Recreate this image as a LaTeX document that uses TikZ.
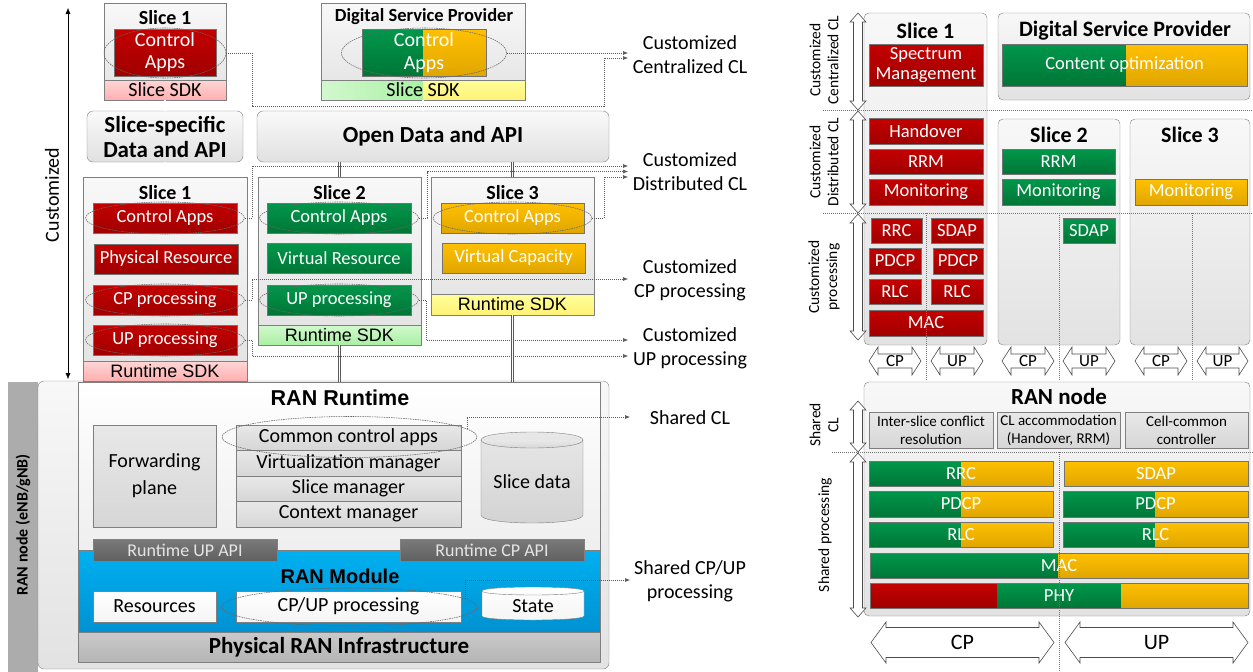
\documentclass[tikz,border=0pt]{standalone}
\usepackage{fontspec}
\setmainfont{Carlito}
\newfontfamily\arialf{Liberation Sans}
\usetikzlibrary{arrows.meta,calc,shapes.geometric}

\definecolor{rtop}{HTML}{C40000}
\definecolor{rbot}{HTML}{A00000}
\definecolor{gtop}{HTML}{00974B}
\definecolor{gbot}{HTML}{007636}
\definecolor{ytop}{HTML}{FFC000}
\definecolor{ybot}{HTML}{E0A600}
\definecolor{pinkt}{HTML}{FFD6D6}
\definecolor{pinkb}{HTML}{FFAFAF}
\definecolor{lgrt}{HTML}{D2F8CE}
\definecolor{lgrb}{HTML}{A9F0A3}
\definecolor{lyl}{HTML}{FFFF99}
\definecolor{lylb}{HTML}{FFF176}
\definecolor{modt}{HTML}{00B0F0}
\definecolor{modb}{HTML}{0092D2}
\definecolor{panelt}{HTML}{F8F8F8}
\definecolor{panelb}{HTML}{E2E2E2}
\definecolor{edge}{HTML}{7F7F7F}
\definecolor{apit}{HTML}{7A7A7A}
\definecolor{apib}{HTML}{606060}

\newcommand\fsz[2]{\fontsize{#1}{#2}\selectfont}
% box given by its corners: name, style, x1, y1, x2, y2, text
\newcommand\bx[7]{\node[box,#2,minimum width={#5-#3},minimum height={#6-#4}]
  (#1) at ({(#3+#5)/2},{(#4+#6)/2}) {#7};}
% two-colour bar: name, x1, y1, split, x2, y2, text
\newcommand\gybar[7]{%
  \shade[top color=gtop,bottom color=gbot] (#2,#3) rectangle (#4,#6);
  \shade[top color=ytop,bottom color=ybot] (#4,#3) rectangle (#5,#6);
  \bx{#1}{draw=black!55,text=white}{#2}{#3}{#5}{#6}{#7}}
% hollow double arrow, horizontal: x1, x2, y, half height, half shaft, head length
\newcommand\harr[6]{%
  \draw[hollow] (#1,#3) -- ({#1+#6},{#3-#4}) -- ({#1+#6},{#3-#5}) -- ({#2-#6},{#3-#5})
    -- ({#2-#6},{#3-#4}) -- (#2,#3) -- ({#2-#6},{#3+#4}) -- ({#2-#6},{#3+#5})
    -- ({#1+#6},{#3+#5}) -- ({#1+#6},{#3+#4}) -- cycle;}
% hollow double arrow, vertical: x, y1, y2, half width, half shaft, head length
\newcommand\varr[6]{%
  \draw[hollow] (#1,#2) -- ({#1+#4},{#2+#6}) -- ({#1+#5},{#2+#6}) -- ({#1+#5},{#3-#6})
    -- ({#1+#4},{#3-#6}) -- (#1,#3) -- ({#1-#4},{#3-#6}) -- ({#1-#5},{#3-#6})
    -- ({#1-#5},{#2+#6}) -- ({#1-#4},{#2+#6}) -- cycle;}
% cylinder: x1, y1, x2, y2, cap half height, style
\newcommand\cyl[6]{%
  \path[#6] (#1,{#2+#5}) -- (#1,{#4-#5})
    .. controls (#1,{#4+#5/3}) and (#3,{#4+#5/3}) .. (#3,{#4-#5})
    -- (#3,{#2+#5}) .. controls (#3,{#2-#5/3}) and (#1,{#2-#5/3}) .. (#1,{#2+#5});
  \path[#6] (#1,{#2+#5}) .. controls (#1,{#2+7*#5/3}) and (#3,{#2+7*#5/3}) .. (#3,{#2+#5});}

\begin{document}
\begin{tikzpicture}[x=1pt,y=-1pt,font=\fsz{20}{23},
  box/.style={inner sep=0pt,align=center},
  panel/.style={draw=edge,top color=panelt,bottom color=panelb},
  rpanel/.style={panel,rounded corners=5pt},
  redb/.style={draw=black!55,top color=rtop,bottom color=rbot,text=white},
  greenb/.style={draw=black!55,top color=gtop,bottom color=gbot,text=white},
  yellowb/.style={draw=black!55,top color=ytop,bottom color=ybot,text=white},
  grayb/.style={draw=edge,top color=gray!18,bottom color=gray!32},
  apibar/.style={draw=black!50,top color=apit,bottom color=apib,text=gray!20,font=\fsz{18}{20}},
  ring/.style={ellipse,draw=black!60,dash pattern=on 1.6pt off 0.8pt,line width=0.55pt,inner sep=0pt},
  cl/.style={draw=black!65,dash pattern=on 1pt off 1pt,line width=0.6pt,-{Latex[length=5pt,width=4pt]}},
  dots/.style={draw=black!55,dash pattern=on 1pt off 1pt,line width=0.6pt},
  dbl/.style={draw=black!65,double=white,double distance=1.6pt,line width=0.6pt},
  hollow/.style={draw=black!70,fill=white,line width=0.6pt,line join=miter},
  sdk/.style={font=\arialf\fsz{18}{20}},
  ttl/.style={font=\bfseries\fsz{20}{23}},
  inb/.style={font=\fsz{18.5}{20}},
  lbl/.style={align=center,font=\fsz{20}{24}},
  rlbl/.style={align=center,rotate=90,font=\fsz{15.5}{18}}]
\useasboundingbox (0,0) rectangle (1253,672);

%================ left: customized / shared layers ================
\coordinate (cTop) at (68,8);
\coordinate (cMid) at (68,379);
\coordinate (sMid) at (68,383);
\coordinate (sBot) at (68,662);
\draw[{Latex[length=6pt,width=5pt]}-{Latex[length=6pt,width=5pt]}] (cTop) -- (cMid);
\draw[{Latex[length=6pt,width=5pt]}-{Latex[length=6pt,width=5pt]}] (sMid) -- (sBot);
\node[rotate=90] (lcust) at (52,195) {Customized};
\node[rotate=90] (lshared) at (52,538) {Shared};

\bx{ranbar}{fill=gray!65}{8}{382}{38}{672}{}
\node[rotate=90,font=\bfseries\fsz{16}{18}] (ranbartxt) at (23,525) {RAN node (eNB/gNB)};

% shared RAN node
\bx{shpanel}{panel,rounded corners=6pt}{38}{381}{609}{669}{}
\bx{rtreg}{draw=edge,top color=white,bottom color=gray!13}{78}{382}{600}{550}{}
\bx{rmreg}{draw=edge,top color=modt,bottom color=modb}{78}{550}{600}{632}{}
\bx{phyreg}{draw=edge,top color=gray!42,bottom color=gray!58,font=\bfseries\fsz{23}{25}}{78}{632}{600}{662}{Physical RAN Infrastructure}
\node[font=\arialf\bfseries\fsz{21.5}{24}] (rttl) at (340,398) {RAN Runtime};
\node[font=\arialf\bfseries\fsz{20}{23}] (mttl) at (340,576) {RAN Module};

\bx{fwd}{grayb}{93}{425}{216}{527}{Forwarding\\[4pt]plane}
\bx{cca}{grayb}{236}{425}{461}{450}{Common control apps}
\bx{vman}{grayb}{236}{450}{461}{476}{Virtualization manager}
\bx{sman}{grayb}{236}{476}{461}{501}{Slice manager}
\bx{ctxm}{grayb}{236}{501}{461}{527}{Context manager}
\cyl{481}{432}{583}{523}{8}{draw=edge,top color=gray!18,bottom color=gray!35}
\node (sdata) at (532,482) {Slice data};

\bx{upapi}{apibar}{93}{539}{277}{561}{Runtime UP API}
\bx{cpapi}{apibar}{400}{539}{584}{561}{Runtime CP API}

\bx{res}{draw=edge,top color=white,bottom color=gray!8}{93}{591}{216}{622}{Resources}
\bx{cpup}{draw=edge,top color=white,bottom color=gray!8}{236}{591}{461}{622}{CP/UP processing}
\cyl{482}{587}{584}{620}{4}{draw=edge,top color=white,bottom color=gray!8}
\node (state) at (533,606) {State};

\node[ring,minimum width=255,minimum height=41] (ccar) at (349.5,437) {};
\node[ring,minimum width=255,minimum height=38] (cpupr) at (349.5,607) {};

%================ left: customized part ================
% top slice 1
\bx{s1top}{panel}{104}{3}{226}{100}{}
\node[ttl] (s1ttl) at (165,18) {Slice 1};
\bx{s1app}{redb,font=\fsz{20}{22}}{114}{29}{216}{76}{Control\\Apps}
\bx{s1sdk}{draw=edge,top color=pinkt,bottom color=pinkb}{104}{80}{226}{100}{Slice SDK}
\node[ring,minimum width=122,minimum height=50] (s1appr) at (165,53) {};

% digital service provider
\bx{dsp}{panel}{321}{3}{525}{100}{}
\node[font=\bfseries\fsz{18.5}{21}] (dspttl) at (424,17) {Digital Service Provider};
\gybar{dspapp}{362}{29}{423}{486}{76}{\fsz{20}{22}Control\\Apps}
\shade[left color=lgrt,right color=lgrb] (321,80) rectangle (423,100);
\shade[top color=lyl,bottom color=lylb] (423,80) rectangle (525,100);
\bx{dspsdk}{draw=edge}{321}{80}{525}{100}{Slice SDK}
\node[ring,minimum width=165,minimum height=50] (dspappr) at (424,53) {};

% data and API layers
\bx{ssapi}{draw=edge,rounded corners=6pt,top color=gray!4,bottom color=gray!24,font=\bfseries\fsz{23}{25}}{87}{111}{243}{162}{Slice-specific\\Data and API}
\bx{odapi}{draw=edge,rounded corners=6pt,top color=gray!4,bottom color=gray!24,font=\bfseries\fsz{23}{25}}{257}{111}{609}{162}{Open Data and API}

% slice 1 runtime
\bx{s1box}{panel}{83}{177}{247}{381}{}
\node[ttl] (s1ttlb) at (165,193) {Slice 1};
\bx{s1ca}{redb,inb}{93}{203}{237}{233}{Control Apps}
\bx{s1pr}{redb,inb}{94}{244}{238}{274}{Physical Resource}
\bx{s1cp}{redb,inb}{93}{285}{237}{315}{CP processing}
\bx{s1up}{redb,inb}{93}{325}{237}{355}{UP processing}
\bx{s1rsdk}{sdk,draw=edge,top color=pinkt,bottom color=pinkb}{83}{361}{247}{381}{Runtime SDK}
\node[ring,minimum width=159,minimum height=32] (s1car) at (165,218) {};
\node[ring,minimum width=159,minimum height=32] (s1cpr) at (165,300) {};
\node[ring,minimum width=159,minimum height=32] (s1upr) at (165,340) {};

% slice 2 runtime
\bx{s2box}{panel}{258}{177}{421}{345}{}
\node[ttl] (s2ttl) at (339.5,193) {Slice 2};
\bx{s2ca}{greenb,inb}{267}{203}{411}{233}{Control Apps}
\bx{s2vr}{greenb,inb}{267}{243}{411}{273}{Virtual Resource}
\bx{s2up}{greenb,inb}{267}{285}{411}{315}{UP processing}
\bx{s2rsdk}{sdk,draw=edge,top color=lgrt,bottom color=lgrb}{258}{325}{421}{345}{Runtime SDK}
\node[ring,minimum width=159,minimum height=32] (s2car) at (339,218) {};
\node[ring,minimum width=159,minimum height=32] (s2upr) at (339,300) {};

% slice 3 runtime
\bx{s3box}{panel}{431}{177}{594}{315}{}
\node[ttl] (s3ttl) at (512.5,193) {Slice 3};
\bx{s3ca}{yellowb,inb}{441}{203}{584}{233}{Control Apps}
\bx{s3vc}{yellowb,inb}{442}{243}{585}{273}{Virtual Capacity}
\bx{s3rsdk}{sdk,draw=edge,top color=lyl,bottom color=lylb}{431}{294}{594}{315}{Runtime SDK}
\node[ring,minimum width=159,minimum height=32] (s3car) at (512.5,218) {};

% interface links between layers
\draw[dbl] (s1sdk.south) -- (ssapi.north);
\draw[dbl] (ssapi.south) -- (s1box.north);
\draw[dbl] (dspsdk.south) -- (dspsdk.south |- odapi.north);
\draw[dbl] (s2box.north |- odapi.south) -- (s2box.north);
\draw[dbl] (s3box.north |- odapi.south) -- (s3box.north);
\draw[dbl] (s2rsdk.south) -- (s2rsdk.south |- rtreg.north);
\draw[dbl] (s3rsdk.south) -- (s3rsdk.south |- rtreg.north);

% control-loop labels on the right of the left diagram
\node[lbl] (lcent) at (690,55) {Customized\\Centralized CL};
\node[lbl] (ldist) at (690,172) {Customized\\Distributed CL};
\node[lbl] (lcp) at (690,280) {Customized\\CP processing};
\node[lbl] (lup) at (690,348) {Customized\\UP processing};
\node[lbl] (lscl) at (690,418) {Shared CL};
\node[lbl] (lsproc) at (690,581) {Shared CP/UP\\processing};

\coordinate (ccA) at (628,53);
\coordinate (ccB) at (628,58);
\coordinate (dcA) at (628,166);
\coordinate (dcB) at (628,171.5);
\coordinate (dcC) at (628,177);
\coordinate (cpE) at (628,279);
\coordinate (upA) at (628,340);
\coordinate (upB) at (628,356);
\coordinate (shA) at (630,417);
\coordinate (shB) at (630,580);
\coordinate (w1) at (252,106);
\coordinate (w2) at (604,58);

\draw[cl] (dspappr.east) -- (ccA);
\draw[cl] (s1appr.east) -| (w1) -| (w2) -- (ccB);
\draw[cl] (s1car.east) -| (252,166) -- (dcA);
\draw[cl] (s2car.east) -| (427,171.5) -- (dcB);
\draw[cl] (s3car.east) -| (604,177) -- (dcC);
\draw[cl] (s1cpr.east) -| (252,279) -- (cpE);
\draw[cl] (s2upr.east) -| (426,340) -- (upA);
\draw[cl] (s1upr.east) -| (252,356) -- (upB);
\draw[cl] (ccar.4) |- (shA);
\draw[cl] (cpupr.4) |- (shB);

%================ right: per-slice view ================
\bx{r1box}{rpanel}{864}{13}{987}{345}{}
\node[font=\bfseries\fsz{22}{25}] (r1ttl) at (925.5,31) {Slice 1};
\bx{spec}{redb,inb}{869}{44}{983}{86}{Spectrum\\Management}
\bx{hand}{redb,inb}{869}{118}{983}{144}{Handover}
\bx{rrm1}{redb,inb}{869}{149}{983}{174}{RRM}
\bx{mon1}{redb,inb}{869}{179}{983}{205}{Monitoring}
\bx{rrc1}{redb,inb}{871}{218}{922}{243}{RRC}
\bx{sdap1}{redb,inb}{931}{218}{983}{243}{SDAP}
\bx{pdcp1a}{redb,inb}{869}{248}{921}{274}{PDCP}
\bx{pdcp1b}{redb,inb}{933}{248}{983}{274}{PDCP}
\bx{rlc1a}{redb,inb}{869}{279}{921}{304}{RLC}
\bx{rlc1b}{redb,inb}{931}{279}{983}{304}{RLC}
\bx{mac1}{redb,inb}{869}{310}{983}{336}{MAC}

\bx{rdsp}{rpanel}{998}{13}{1250}{100}{}
\node[font=\bfseries\fsz{22}{25}] (rdspttl) at (1125,31) {Digital Service Provider};
\gybar{copt}{1002}{44}{1126}{1247}{86}{\fsz{18.5}{20}Content optimization}

\bx{r2box}{rpanel}{998}{119}{1120}{345}{}
\node[font=\bfseries\fsz{22}{25}] (r2ttl) at (1059,135) {Slice 2};
\bx{rrm2}{greenb,inb}{1002}{149}{1115}{174}{RRM}
\bx{mon2}{greenb,inb}{1002}{179}{1115}{205}{Monitoring}
\bx{sdap2}{greenb,inb}{1063}{218}{1115}{243}{SDAP}

\bx{r3box}{rpanel}{1130}{119}{1250}{345}{}
\node[font=\bfseries\fsz{22}{25}] (r3ttl) at (1190,135) {Slice 3};
\bx{mon3}{yellowb,inb}{1135}{179}{1247}{205}{Monitoring}

% CP / UP interfaces of each slice
\harr{869}{921}{361}{14}{7}{9}
\harr{931}{983}{361}{14}{7}{9}
\harr{1002}{1054}{361}{14}{7}{9}
\harr{1063}{1115}{361}{14}{7}{9}
\harr{1135}{1187}{361}{14}{7}{9}
\harr{1197}{1248}{361}{14}{7}{9}
\node[font=\fsz{17}{19}] (cp1) at (895,361) {CP};
\node[font=\fsz{17}{19}] (up1) at (957,361) {UP};
\node[font=\fsz{17}{19}] (cp2) at (1028,361) {CP};
\node[font=\fsz{17}{19}] (up2) at (1089,361) {UP};
\node[font=\fsz{17}{19}] (cp3) at (1161,361) {CP};
\node[font=\fsz{17}{19}] (up3) at (1222.5,361) {UP};

% shared RAN node
\bx{rnode}{rpanel}{864}{382}{1250}{616}{}
\node[font=\bfseries\fsz{23}{26}] (rnttl) at (1059,397) {RAN node};
\bx{isc}{grayb,font=\fsz{15}{18}}{869}{412}{993}{448}{Inter-slice conflict\\resolution}
\bx{cla}{grayb,font=\fsz{15}{18}}{997}{412}{1120}{448}{CL accommodation\\(Handover, RRM)}
\bx{ccc}{grayb,font=\fsz{15}{18}}{1125}{412}{1248}{448}{Cell-common\\controller}

\gybar{rrc2}{869}{461}{961}{1053}{486}{\fsz{18.5}{20}RRC}
\bx{sdap3}{yellowb,inb}{1064}{461}{1248}{486}{SDAP}
\gybar{pdcp2a}{869}{491}{961}{1053}{517}{\fsz{18.5}{20}PDCP}
\gybar{pdcp2b}{1063}{491}{1155}{1248}{517}{\fsz{18.5}{20}PDCP}
\gybar{rlc2a}{869}{522}{961}{1053}{547}{\fsz{18.5}{20}RLC}
\gybar{rlc2b}{1063}{522}{1155}{1248}{547}{\fsz{18.5}{20}RLC}
\gybar{mac2}{870}{553}{1058}{1248}{578}{\fsz{18.5}{20}MAC}
\shade[top color=rtop,bottom color=rbot] (870,583) rectangle (997,608);
\shade[top color=gtop,bottom color=gbot] (997,583) rectangle (1121,608);
\shade[top color=ytop,bottom color=ybot] (1121,583) rectangle (1248,608);
\bx{phy}{draw=black!55,text=white,inb}{870}{583}{1248}{608}{PHY}

\harr{871}{1054}{642.5}{20.5}{15}{15}
\harr{1065}{1248}{642.5}{20.5}{15}{15}
\node[font=\fsz{22}{25}] (bcp) at (962.5,642.5) {CP};
\node[font=\fsz{22}{25}] (bup) at (1156.5,642.5) {UP};

% layer separators
\draw[dots] (823,110) -- (1253,110);
\draw[dots] (823,213) -- (1253,213);
\draw[dots] (832,452) -- (1253,452);
\draw[dots] (926,213) -- (926,380);
\draw[dots] (1059,213) -- (1059,380);
\draw[dots] (1192,213) -- (1192,380);
\draw[dots] (1059,452) -- (1059,672);

% layer extents
\varr{858}{13}{110}{8}{4.5}{9}
\varr{858}{111}{213}{8}{4.5}{9}
\varr{858}{214}{340}{8}{4.5}{9}
\varr{858}{401}{452}{8}{4.5}{9}
\varr{858}{453}{617}{8}{4.5}{9}
\node[rlbl] (rcent) at (824,60) {Customized\\Centralized CL};
\node[rlbl] (rdist) at (824,162) {Customized\\Distributed CL};
\node[rlbl] (rproc) at (824,277) {Customized\\processing};
\node[rlbl] (rscl) at (824,425) {Shared\\CL};
\node[rlbl] (rsproc) at (825,535) {Shared processing};
\end{tikzpicture}
\end{document}
